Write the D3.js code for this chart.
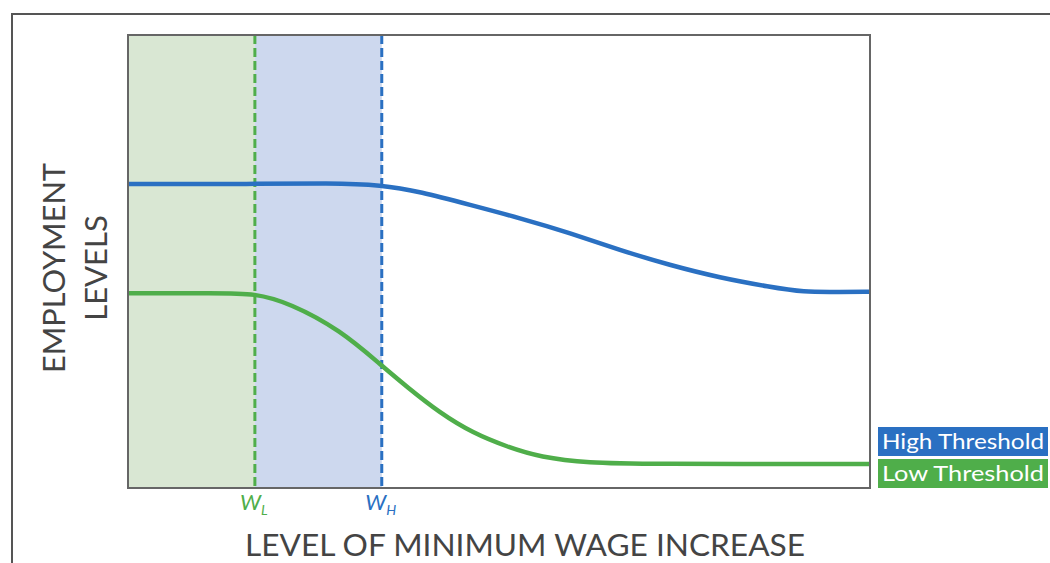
<!DOCTYPE html>
<html><head><meta charset="utf-8">
<script src="https://cdn.jsdelivr.net/npm/d3@7"></script>
<style>body{margin:0;background:#fff}svg{display:block}text{font-family:Lato,"Open Sans",sans-serif}</style>
</head><body><svg id="c" width="1050" height="563"></svg>
<script>
// Data (x: level of minimum wage increase 0-100, y: employment level 0-100)
const highX = [0, 17.1, 27.2, 34.2, 39.4, 46.1, 52.8, 59.6, 66.3, 73.0, 79.8, 86.5, 91.0, 96.0, 100];
const highY = [67.1, 67.1, 67.3, 66.9, 65.4, 62.5, 59.6, 56.3, 52.5, 49.2, 46.4, 44.4, 43.2, 43.3, 43.3];
const lowX = [0, 12.0, 17.1, 21.8, 28.6, 34.2, 37.6, 42.0, 46.5, 51.1, 55.5, 62.3, 69.0, 100];
const lowY = [43.0, 43.0, 43.0, 40.8, 34.9, 27.0, 22.3, 16.6, 12.1, 9.1, 6.8, 5.5, 5.3, 5.3];
const thresholds = [{name: "L", x: 17.1}, {name: "H", x: 34.2}];
const legendLabels = ["High Threshold", "Low Threshold"];

const svg = d3.select("#c");
const L = 128, R = 870, T = 35, B = 488;
const x = d3.scaleLinear().domain([0, 100]).range([L, R]);
const y = d3.scaleLinear().domain([0, 100]).range([B, T]);
const blue = "#2a70c2", green = "#4fae4a";

// outer frame
svg.append("rect").attr("x", 12).attr("y", 14).attr("width", 1060).attr("height", 600)
  .attr("fill", "none").attr("stroke", "#555").attr("stroke-width", 2);

// shaded regions
svg.append("rect").attr("x", x(0)).attr("y", T).attr("width", x(thresholds[0].x) - x(0)).attr("height", B - T).attr("fill", "#d9e7d3");
svg.append("rect").attr("x", x(thresholds[0].x)).attr("y", T).attr("width", x(thresholds[1].x) - x(thresholds[0].x)).attr("height", B - T).attr("fill", "#cdd8ee");

// threshold dashed lines
const tcol = [green, blue];
thresholds.forEach((t, i) => {
  svg.append("line").attr("x1", x(t.x)).attr("x2", x(t.x)).attr("y1", T).attr("y2", B)
    .attr("stroke", tcol[i]).attr("stroke-width", 3).attr("stroke-dasharray", "9,4");
  const tx = svg.append("text").attr("x", x(t.x) - 1).attr("y", 510).attr("text-anchor", "middle")
    .attr("fill", tcol[i]).attr("font-size", 22).attr("font-style", "italic");
  tx.append("tspan").text("W");
  tx.append("tspan").attr("font-size", 14).attr("dy", 5).text(t.name);
});

// curves
const line = d3.line().x(d => x(d[0])).y(d => y(d[1])).curve(d3.curveBasis);
svg.append("path").datum(highX.map((v, i) => [v, highY[i]])).attr("d", line)
  .attr("fill", "none").attr("stroke", blue).attr("stroke-width", 4.5);
svg.append("path").datum(lowX.map((v, i) => [v, lowY[i]])).attr("d", line)
  .attr("fill", "none").attr("stroke", green).attr("stroke-width", 4.5);

// plot frame
svg.append("rect").attr("x", L).attr("y", T).attr("width", R - L).attr("height", B - T)
  .attr("fill", "none").attr("stroke", "#666").attr("stroke-width", 2);

// axis titles
svg.append("text").attr("x", (245 + 805) / 2).attr("y", 556).attr("text-anchor", "middle")
  .attr("fill", "#444").attr("font-size", 30).attr("textLength", 560).attr("lengthAdjust", "spacingAndGlyphs")
  .text("LEVEL OF MINIMUM WAGE INCREASE");
svg.append("text").attr("transform", "translate(65,268) rotate(-90)").attr("text-anchor", "middle")
  .attr("fill", "#444").attr("font-size", 31).attr("textLength", 210).attr("lengthAdjust", "spacingAndGlyphs")
  .text("EMPLOYMENT");
svg.append("text").attr("transform", "translate(107,268) rotate(-90)").attr("text-anchor", "middle")
  .attr("fill", "#444").attr("font-size", 31).text("LEVELS");

// legend
const lcol = [blue, green];
const ly = [427, 459];
legendLabels.forEach((lab, i) => {
  svg.append("rect").attr("x", 878).attr("y", ly[i]).attr("width", 170).attr("height", 29).attr("fill", lcol[i]);
  svg.append("text").attr("x", 882).attr("y", ly[i] + 22).attr("fill", "#fff").attr("font-size", 22)
    .attr("textLength", 162).attr("lengthAdjust", "spacingAndGlyphs").text(lab);
});
</script></body></html>
